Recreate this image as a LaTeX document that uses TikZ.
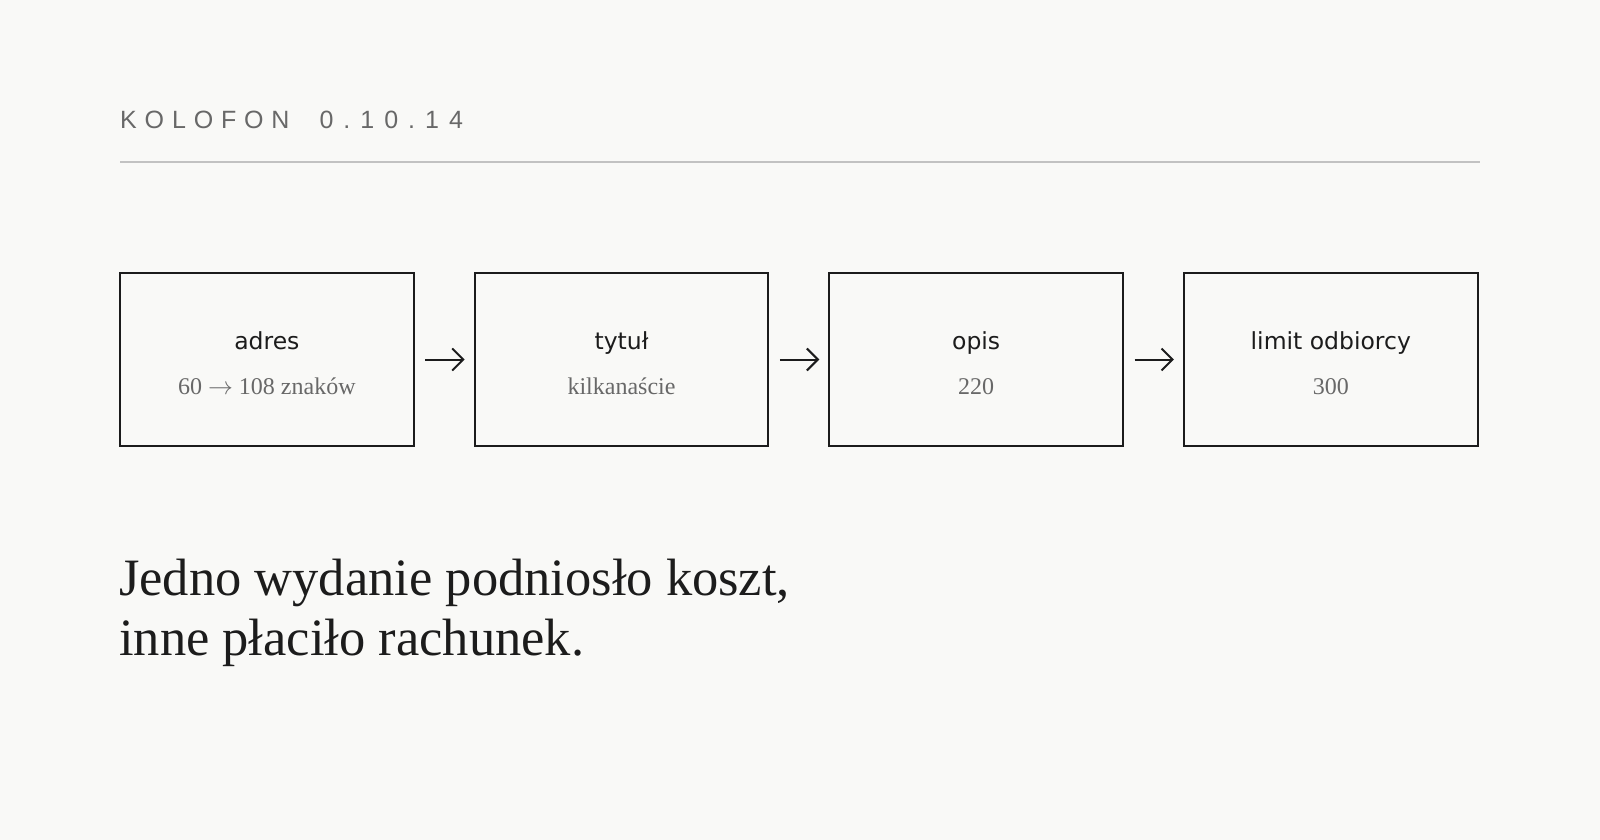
\documentclass[tikz,border=0pt]{standalone}
\usepackage{fontspec}
\setmainfont{Liberation Serif}
\newfontfamily\labfont{DejaVu Sans}
\newfontfamily\titlefont[LetterSpace=31.4]{Liberation Sans}
\newfontfamily\titledigits[LetterSpace=40]{Liberation Sans}
\usetikzlibrary{arrows.meta}
\definecolor{bgc}{HTML}{F9F9F7}
\definecolor{ink}{HTML}{1C1C1C}
\definecolor{muted}{HTML}{686868}
\definecolor{rulec}{HTML}{C2C2C2}
\tikzset{
  stagebox/.style={draw=ink, line width=2pt, minimum width=293.7pt, minimum height=173pt, inner sep=0pt},
  lab/.style={text=ink, font=\labfont\fontsize{23.5}{28}\selectfont, anchor=base, inner sep=0pt},
  sub/.style={text=muted, font=\fontsize{24}{28}\selectfont, anchor=base, inner sep=0pt},
  flow/.style={draw=ink, line width=2pt, -{Straight Barb[length=11pt,width=22pt,line width=2pt]}, shorten <=10.5pt, shorten >=9pt},
  big/.style={text=ink, font=\fontsize{52.5}{60}\selectfont, anchor=base west, inner sep=0pt},
}
\begin{document}
\begin{tikzpicture}[x=1pt,y=-1pt]
\fill[bgc] (0,0) rectangle (1600,840);
\useasboundingbox (0,0) rectangle (1600,840);
% title
\node[text=muted, font=\fontsize{25}{30}\selectfont, anchor=base west, inner sep=0pt] (title) at (120,128.3) {\titlefont KOLOFON\hspace{30pt}\titledigits 0.10.14};
\coordinate (r1) at (120,162);
\coordinate (r2) at (1480,162);
\draw[rulec, line width=1.5pt] (r1) -- (r2);
% boxes
\node[stagebox] (b1) at (266.85,359.5) {};
\node[stagebox] (b2) at (621.5,359.5) {};
\node[stagebox] (b3) at (976.15,359.5) {};
\node[stagebox] (b4) at (1330.8,359.5) {};
\node[lab] (l1) at (266.85,349.3) {adres};
\node[lab] (l2) at (621.5,349.3) {tytuł};
\node[lab] (l3) at (976.15,349.3) {opis};
\node[lab] (l4) at (1330.8,349.3) {limit odbiorcy};
\node[sub] (s1) at (266.85,394.5) {60 $\rightarrow$ 108 znaków};
\node[sub] (s2) at (621.5,394.5) {kilkanaście};
\node[sub] (s3) at (976.15,394.5) {220};
\node[sub] (s4) at (1330.8,394.5) {300};
\draw[flow] (b1.east) -- (b2.west);
\draw[flow] (b2.east) -- (b3.west);
\draw[flow] (b3.east) -- (b4.west);
% statement
\node[big] (t1) at (119,595) {Jedno wydanie podniosło koszt,};
\node[big] (t2) at (119,655) {inne płaciło rachunek.};
\end{tikzpicture}
\end{document}
